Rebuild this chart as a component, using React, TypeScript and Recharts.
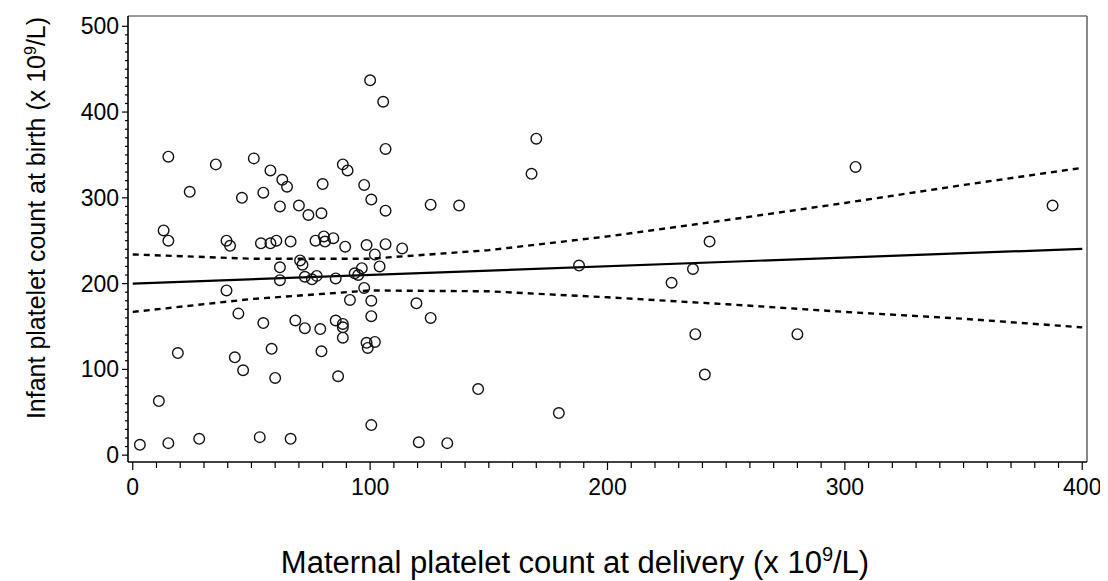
import React from 'react';
import { ComposedChart, XAxis, YAxis, Scatter, Line, ReferenceLine } from 'recharts';

// Maternal platelet count (x) vs infant platelet count (y)
const maternal = [
  3, 11, 13, 15, 15, 15, 19, 24, 28, 35,
  39.5, 41, 39.5, 43, 44.5, 46, 46.5, 51, 53.5, 54,
  55, 55, 58, 58, 58.5, 60.5, 60, 62, 62, 62,
  63, 65, 66.5, 66.5, 68.5, 70, 70.5, 71.5, 72.5, 72.5,
  74, 75.5, 77, 77.5, 79, 79.5, 79.5, 80, 80.5, 81,
  84.5, 85.5, 85.5, 86.5, 88.5, 88.5, 88.5, 88.5, 89.5, 90.5,
  91.5, 93.5, 95, 96.5, 97.5, 97.5, 98.5, 98.5, 99, 100,
  100.5, 100.5, 100.5, 100.5, 102, 102, 104, 105.5, 106.5, 106.5,
  106.5, 113.5, 119.5, 120.5, 125.5, 125.5, 132.5, 137.5, 145.5, 168,
  170, 179.5, 188, 227, 236, 237, 241, 243, 280, 304.5,
  387.5,
];
const infant = [
  12, 63, 262, 250, 348, 14, 119, 307, 19, 339,
  250, 244, 192, 114, 165, 300, 99, 346, 21, 247,
  306, 154, 332, 247, 124, 250, 90, 290, 219, 204,
  321, 313, 19, 249, 157, 291, 227, 222, 208, 148,
  280, 205, 250, 209, 147, 121, 282, 316, 255, 249,
  253, 206, 157, 92, 339, 153, 149, 137, 243, 332,
  181, 212, 210, 218, 195, 315, 245, 131, 125, 437,
  298, 180, 162, 35, 234, 132, 220, 412, 357, 285,
  246, 241, 177, 15, 292, 160, 14, 291, 77, 328,
  369, 49, 221, 201, 217, 141, 94, 249, 141, 336,
  291,
];

// Fitted regression line and its 95% confidence limits
const fitX = [0, 400];
const fitY = [200, 240.5];
const bandX = [0, 50, 100, 150, 200, 250, 300, 350, 400];
const upperY = [234, 229, 229, 239, 255, 274, 294, 315, 335];
const lowerY = [167, 182, 192, 191, 184, 176, 167, 159, 149];

const majorXTicks = [0, 100, 200, 300, 400];
const majorYTicks = [0, 100, 200, 300, 400, 500];
const xTicks = Array.from({ length: 41 }, (_, i) => i * 10);
const yTicks = Array.from({ length: 51 }, (_, i) => i * 10);

const points = maternal.map((x, i) => ({ x, y: infant[i] }));
const fitData = fitX.map((x, i) => ({ x, y: fitY[i] }));
const upperData = bandX.map((x, i) => ({ x, y: upperY[i] }));
const lowerData = bandX.map((x, i) => ({ x, y: lowerY[i] }));

const FONT = '"Liberation Sans", Arial, Helvetica, sans-serif';

const XTick = (props: any) => {
  const { x, y, payload } = props;
  const v = payload.value;
  const major = majorXTicks.includes(v);
  return (
    <g>
      <line x1={x} x2={x} y1={y} y2={y + (major ? 8 : 6)} stroke="#000" strokeWidth={1.2} />
      {major && (
        <text x={x} y={y + 33} textAnchor="middle" fontSize={23} fontFamily={FONT} fill="#000">
          {v}
        </text>
      )}
    </g>
  );
};

const YTick = (props: any) => {
  const { x, y, payload } = props;
  const v = payload.value;
  const major = majorYTicks.includes(v);
  return (
    <g>
      <line x1={x} x2={x - (major ? 6 : 3)} y1={y} y2={y} stroke="#000" strokeWidth={1.2} />
      {major && (
        <text x={x - 9} y={y + 8} textAnchor="end" fontSize={23} fontFamily={FONT} fill="#000">
          {v}
        </text>
      )}
    </g>
  );
};

const XTitle = () => (
  <text x={567} y={565} textAnchor="middle" fontSize={31} fontFamily={FONT} fill="#000">
    Maternal platelet count at delivery (x 10
    <tspan dy={-12} fontSize={20}>9</tspan>
    <tspan dy={12}>/L)</tspan>
  </text>
);

const YTitle = () => (
  <text
    x={28}
    y={219}
    transform="rotate(-90, 28, 210)"
    textAnchor="middle"
    fontSize={25}
    fontFamily={FONT}
    fill="#000"
  >
    Infant platelet count at birth (x 10
    <tspan dy={-9} fontSize={16}>9</tspan>
    <tspan dy={9}>/L)</tspan>
  </text>
);

const Circle = (props: any) => {
  const { cx, cy } = props;
  return <circle cx={cx} cy={cy} r={5.3} fill="none" stroke="#111" strokeWidth={1.4} />;
};

export default function App() {
  return (
    <div style={{ width: 1100, height: 573, background: '#fff' }}>
      <ComposedChart
        width={1100}
        height={573}
        margin={{ top: 8, right: 21, left: 0, bottom: 0 }}
        style={{ background: '#fff' }}
      >
        <XAxis
          type="number"
          dataKey="x"
          domain={[-2, 402]}
          allowDataOverflow
          ticks={xTicks}
          interval={0}
          tickSize={0}
          tickMargin={0}
          tickLine={false}
          tick={<XTick />}
          height={119}
          axisLine={{ stroke: '#000', strokeWidth: 1.6 }}
          label={{ content: () => <XTitle /> }}
        />
        <YAxis
          type="number"
          dataKey="y"
          domain={[-8, 512]}
          allowDataOverflow
          ticks={yTicks}
          interval={0}
          tickSize={0}
          tickMargin={0}
          tickLine={false}
          tick={<YTick />}
          width={120}
          axisLine={{ stroke: '#000', strokeWidth: 1.6 }}
          label={{ content: () => <YTitle /> }}
        />
        <ReferenceLine y={512} stroke="#333" strokeWidth={1.2} />
        <ReferenceLine x={402} stroke="#555" strokeWidth={1.4} />
        <Line
          data={upperData}
          dataKey="y"
          type="linear"
          dot={false}
          stroke="#000"
          strokeWidth={2.4}
          strokeDasharray="6 5"
          isAnimationActive={false}
        />
        <Line
          data={lowerData}
          dataKey="y"
          type="linear"
          dot={false}
          stroke="#000"
          strokeWidth={2.4}
          strokeDasharray="6 5"
          isAnimationActive={false}
        />
        <Line
          data={fitData}
          dataKey="y"
          type="linear"
          dot={false}
          stroke="#000"
          strokeWidth={2.2}
          isAnimationActive={false}
        />
        <Scatter data={points} dataKey="y" shape={<Circle />} isAnimationActive={false} />
      </ComposedChart>
    </div>
  );
}
